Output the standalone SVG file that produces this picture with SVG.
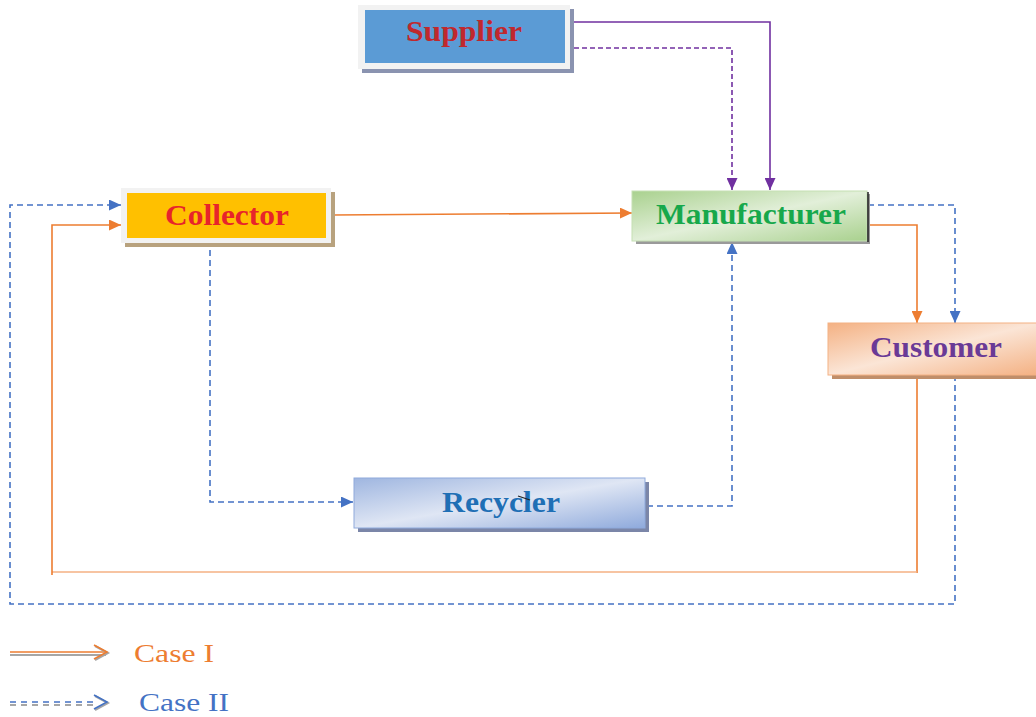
<svg xmlns="http://www.w3.org/2000/svg" width="1036" height="717" viewBox="0 0 1036 717">
  <style>
    .lbl { font-family: "Liberation Serif", "Times New Roman", serif; font-weight: bold; font-size: 30px; text-anchor: middle; }
    .leg { font-family: "Liberation Serif", "Times New Roman", serif; font-size: 25px; }
    .or { fill: none; stroke: #ed7d31; stroke-width: 1.6; }
    .orl { fill: none; stroke: #f4b183; stroke-width: 1.6; }
    .pu { fill: none; stroke: #7030a0; stroke-width: 1.6; }
    .pud { fill: none; stroke: #7030a0; stroke-width: 1.6; stroke-dasharray: 5 3; }
    .bd { fill: none; stroke: #4472c4; stroke-width: 1.6; stroke-dasharray: 6 4; }
  </style>
  <defs>
    <marker id="aOr" viewBox="0 0 10 10" refX="10" refY="5" markerWidth="12" markerHeight="11" markerUnits="userSpaceOnUse" orient="auto" preserveAspectRatio="none">
      <path d="M0,0 L10,5 L0,10 z" fill="#ed7d31"/>
    </marker>
    <marker id="aPu" viewBox="0 0 10 10" refX="10" refY="5" markerWidth="12" markerHeight="11" markerUnits="userSpaceOnUse" orient="auto" preserveAspectRatio="none">
      <path d="M0,0 L10,5 L0,10 z" fill="#7030a0"/>
    </marker>
    <marker id="aBl" viewBox="0 0 10 10" refX="10" refY="5" markerWidth="12" markerHeight="11" markerUnits="userSpaceOnUse" orient="auto" preserveAspectRatio="none">
      <path d="M0,0 L10,5 L0,10 z" fill="#4472c4"/>
    </marker>
    <linearGradient id="gMan" x1="0" y1="0" x2="1" y2="1">
      <stop offset="0" stop-color="#a9d18e"/>
      <stop offset="0.5" stop-color="#e2efd9"/>
      <stop offset="1" stop-color="#a9d18e"/>
    </linearGradient>
    <linearGradient id="gCus" x1="0" y1="0" x2="1" y2="1">
      <stop offset="0" stop-color="#f4b183"/>
      <stop offset="0.5" stop-color="#fbe5d6"/>
      <stop offset="1" stop-color="#f4b183"/>
    </linearGradient>
    <linearGradient id="gRec" x1="0" y1="0" x2="1" y2="1">
      <stop offset="0" stop-color="#9fb6e0"/>
      <stop offset="0.5" stop-color="#dfe6f4"/>
      <stop offset="1" stop-color="#8faadc"/>
    </linearGradient>
  </defs>

  <!-- connectors -->
  <g id="connectors">
    <!-- supplier to manufacturer -->
    <polyline class="pu" points="566,22 770,22 770,190" marker-end="url(#aPu)"/>
    <polyline class="pud" points="566,48 732,48 732,190" marker-end="url(#aPu)"/>
    <!-- collector to manufacturer -->
    <line class="or" x1="333" y1="215" x2="632" y2="213" marker-end="url(#aOr)"/>
    <!-- manufacturer to customer -->
    <polyline class="or" points="868,225 917,225 917,323" marker-end="url(#aOr)"/>
    <polyline class="bd" points="868,205 955,205 955,323" marker-end="url(#aBl)"/>
    <!-- customer back to collector -->
    <line class="or" x1="917" y1="375" x2="917" y2="573"/>
    <line class="orl" x1="917" y1="572" x2="52" y2="572"/>
    <polyline class="or" points="52,575 52,225 121,225" marker-end="url(#aOr)"/>
    <polyline class="bd" points="955,375 955,604 10,604 10,205 121,205" marker-end="url(#aBl)"/>
    <!-- collector to recycler -->
    <polyline class="bd" points="210,240 210,502 353,502" marker-end="url(#aBl)"/>
    <!-- recycler to manufacturer -->
    <polyline class="bd" stroke-width="1.2" points="647,506 732,506 732,242" marker-end="url(#aBl)"/>
  </g>

  <g id="supplier">
    <rect x="362" y="9" width="212" height="64" fill="#8a93b0"/>
    <rect x="358" y="5" width="212" height="64" fill="#f2f2f2"/>
    <rect x="365" y="10" width="200" height="53" fill="#5b9bd5"/>
    <text class="lbl" x="464" y="41" fill="#c0282d" textLength="116" lengthAdjust="spacingAndGlyphs">Supplier</text>
  </g>

  <g id="collector">
    <rect x="125" y="192" width="210" height="55" fill="#b8a27e"/>
    <rect x="121" y="188" width="210" height="55" fill="#f2f2f2"/>
    <rect x="127" y="193" width="199" height="45" fill="#ffc000"/>
    <text class="lbl" x="227" y="225" fill="#e7242b" textLength="124" lengthAdjust="spacingAndGlyphs">Collector</text>
  </g>

  <g id="manufacturer">
    <rect x="636" y="194" width="234" height="50" fill="#9a9a9a"/>
    <rect x="632" y="191" width="235" height="50" fill="url(#gMan)" stroke="#c5e0b4" stroke-width="1"/>
    <line x1="868" y1="192" x2="868" y2="242" stroke="#222" stroke-width="1.5"/>
    <text class="lbl" x="751" y="224" fill="#17a84b" textLength="190" lengthAdjust="spacingAndGlyphs">Manufacturer</text>
  </g>

  <g id="customer">
    <rect x="832" y="327" width="210" height="52" fill="#c08e6a"/>
    <rect x="828" y="323" width="210" height="52" fill="url(#gCus)" stroke="#f4b183" stroke-width="1"/>
    <text class="lbl" x="936" y="357" fill="#6a3a96" textLength="132" lengthAdjust="spacingAndGlyphs">Customer</text>
  </g>

  <g id="recycler">
    <rect x="358" y="482" width="291" height="50" fill="#7b86a8"/>
    <rect x="354" y="478" width="291" height="50" fill="url(#gRec)" stroke="#8faadc" stroke-width="1"/>
    <text class="lbl" x="501" y="512" fill="#1f6fb5" textLength="118" lengthAdjust="spacingAndGlyphs">Recycler</text>
    <line x1="518" y1="496" x2="530" y2="500" stroke="#222" stroke-width="1.2"/>
  </g>

  <!-- legend -->
  <g id="legend">
    <line x1="10" y1="655" x2="106" y2="655" stroke="#a6a6a6" stroke-width="2"/>
    <line x1="10" y1="652" x2="106" y2="652" stroke="#ed7d31" stroke-width="1.6"/>
    <polyline points="95,646 108,653 95,660" fill="none" stroke="#a6a6a6" stroke-width="2"/>
    <polyline points="94,645 107,652 94,659" fill="none" stroke="#ed7d31" stroke-width="1.6"/>
    <text class="leg" x="134" y="662" fill="#ed7d31" textLength="80" lengthAdjust="spacingAndGlyphs">Case I</text>

    <line x1="10" y1="705" x2="94" y2="705" stroke="#a6a6a6" stroke-width="2" stroke-dasharray="6 5"/>
    <line x1="10" y1="702" x2="94" y2="702" stroke="#4472c4" stroke-width="1.6" stroke-dasharray="6 5"/>
    <polyline points="95,696 108,703 95,710" fill="none" stroke="#a6a6a6" stroke-width="2"/>
    <polyline points="94,695 107,702 94,709" fill="none" stroke="#4472c4" stroke-width="1.6"/>
    <text class="leg" x="139" y="711" fill="#4472c4" textLength="90" lengthAdjust="spacingAndGlyphs">Case II</text>
  </g>
</svg>
